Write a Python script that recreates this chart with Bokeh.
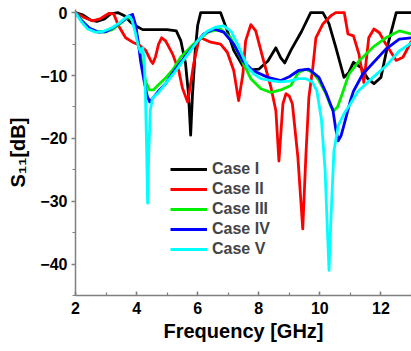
from bokeh.plotting import figure
from bokeh.models import SingleIntervalTicker, Range1d, Legend, LegendItem
from bokeh.embed import file_html
from bokeh.resources import INLINE

# ---- data (frequency in GHz, S11 in dB) ----
case1_x = [2.0, 2.25, 2.5, 2.7, 2.95, 3.15, 3.4, 3.6, 3.8, 3.97, 4.2, 4.6, 5.0, 5.3, 5.45, 5.6, 5.7, 5.77,
           5.83, 5.92, 6.0, 6.1, 6.4, 6.75, 6.97, 7.18, 7.48, 7.74, 8.0, 8.3, 8.56, 8.72, 8.85, 9.05, 9.4,
           9.7, 10.1, 10.3, 10.52, 10.79, 10.95, 11.1, 11.34, 11.57, 11.77, 12.0, 12.23, 12.5, 13.0]
case1_y = [0, -0.4, -1.2, -1.4, -1.0, -0.2, 0, -0.5, -1.5, -2.1, -2.7, -2.7, -2.7, -2.9, -4.5, -8, -13, -19.5,
           -13, -6, -2, 0, 0, 0, -2.9, -6, -8.5, -9.1, -9, -7.7, -5.6, -7.2, -8.0, -6, -3,
           0, 0, -1.8, -5.5, -10.3, -9.5, -7.9, -8.7, -10.5, -11.3, -10.3, -5, 0, 0]

case2_x = [2.0, 2.3, 2.55, 2.8, 3.1, 3.25, 3.4, 3.64, 3.87, 4.07, 4.3, 4.46, 4.53, 4.62, 4.72, 4.82, 4.95,
           5.18, 5.38, 5.5, 5.67, 5.78, 5.87, 6.03, 6.1, 6.43, 6.75, 6.97, 7.18, 7.34, 7.48, 7.57, 7.74,
           7.9, 8.16, 8.4, 8.56, 8.66, 8.79, 8.89, 9.0, 9.1, 9.28, 9.44, 9.54, 9.64, 9.77, 9.87, 10.1,
           10.36, 10.52, 10.8, 10.92, 11.1, 11.28, 11.44, 11.6, 11.77, 11.95, 12.16, 12.5, 12.72, 13.0]
case2_y = [0, -0.8, -1.3, -1.0, -0.1, -0.2, -2, -4, -4.7, -5.1, -6, -7.6, -8.1, -7, -5, -4, -4.5,
           -6.6, -9.2, -12, -14.2, -11, -8.1, -4.5, -4, -4.7, -5, -6.3, -9.2, -14, -9.8, -4.5, -1.9,
           -2.9, -7.7, -11.9, -15.6, -23.6, -14.5, -12.9, -13.3, -14.5, -23, -34.4, -23, -13.5, -8.7, -4, -1.8,
           -0.5, 0, 0, -3.4, -3.7, -6.6, -11.1, -4, -2.6, -3.2, -5, -7.6, -7.1, -4.5]

case3_x = [2.0, 2.2, 2.45, 2.7, 2.95, 3.2, 3.45, 3.65, 3.78, 3.9, 4.0, 4.1, 4.2, 4.3, 4.42, 4.55, 4.75,
           4.95, 5.2, 5.44, 5.87, 6.33, 6.75, 7.08, 7.4, 7.74, 8.07, 8.4, 8.72, 9.05, 9.3, 9.54, 9.77,
           9.97, 10.2, 10.35, 10.46, 10.58, 10.69, 10.95, 11.28, 11.74, 12.16, 12.6, 13.0]
case3_y = [0, -1.2, -2.4, -3.0, -3.1, -2.7, -1.8, -1.0, -0.7, -1.5, -3.5, -6, -8.7, -11, -12.3, -12.3, -11.3,
           -10.4, -9, -7.1, -5, -3.1, -2.6, -4, -7.1, -10.5, -12.1, -12.7, -12.3, -11.6, -9.5, -9, -9.5,
           -10.8, -12.9, -14.8, -15.6, -15.0, -13.5, -9.8, -7.7, -5.5, -4, -2.9, -3.4]

case4_x = [2.0, 2.2, 2.45, 2.75, 3.0, 3.3, 3.55, 3.75, 3.87, 3.97, 4.05, 4.13, 4.25, 4.35, 4.43, 4.53, 4.75,
           4.95, 5.2, 5.44, 5.87, 6.2, 6.52, 6.85, 7.18, 7.48, 7.8, 8.3, 8.72, 9.0, 9.3, 9.64, 9.97,
           10.2, 10.43, 10.52, 10.6, 10.7, 10.8, 11.0, 11.1, 11.4, 11.74, 12.16, 12.6, 13.0]
case4_y = [0, -1.3, -2.5, -3.1, -3.0, -2.2, -1.3, -0.5, -0.3, -2, -4.5, -7.7, -11, -13.3, -14.2, -13.6, -12.3,
           -11.3, -9.5, -7.9, -5.3, -3.4, -2.6, -3.1, -5, -7.7, -9.2, -10.3, -10.8, -10.2, -9.2, -9, -10.3,
           -12.7, -15.6, -18.5, -20.4, -19.5, -17.7, -14, -12.5, -9.8, -8, -5.8, -4.2, -4]

case5_x = [2.0, 2.2, 2.4, 2.65, 2.9, 3.2, 3.45, 3.65, 3.75, 3.85, 3.95, 4.05, 4.13, 4.2, 4.25, 4.29, 4.33,
           4.36, 4.4, 4.45, 4.52, 4.7, 4.95, 5.2, 5.44, 5.7, 6.0, 6.3, 6.6, 6.85, 7.1, 7.35, 7.64, 7.85,
           8.07, 8.4, 8.7, 9.0, 9.3, 9.54, 9.75, 9.9, 10.05, 10.17, 10.25, 10.3, 10.36, 10.46, 10.6, 10.8,
           11.0, 11.25, 11.74, 12.16, 12.6, 13.0]
case5_y = [0, -1.5, -2.6, -3.1, -3.0, -2.4, -1.6, -0.8, -0.5, -1.2, -3, -5.2, -6.3, -5.6, -7.5, -13, -22,
           -30.3, -22, -15.5, -13.6, -12.8, -11.3, -9.8, -8.2, -6.5, -4.5, -3, -2.3, -2.1, -3, -5.5, -8.7, -9.8,
           -10.5, -10.8, -11.0, -10.9, -10.5, -10.5, -11, -12.4, -17, -25, -35, -41, -33, -22, -18, -16,
           -14.5, -12.5, -10.3, -8.5, -6.1, -4.8]

names = ["Case I", "Case II", "Case III", "Case IV", "Case V"]
colors = ["#000000", "#ff0000", "#00ee00", "#0000ff", "#00ffff"]
x_ticks_interval = 2
y_ticks_interval = 10
x_title = "Frequency [GHz]"
y_title = "S₁₁[dB]"

FONT = "Arial"

p = figure(width=411, height=351, output_backend="svg", toolbar_location=None,
           x_range=Range1d(2, 13), y_range=Range1d(-45, 0.5),
           min_border_left=75, min_border_right=0, min_border_top=9, min_border_bottom=56)
p.outline_line_color = None
p.xgrid.visible = False
p.ygrid.visible = False
p.background_fill_color = "white"

series = [(case1_x, case1_y), (case2_x, case2_y), (case3_x, case3_y), (case4_x, case4_y), (case5_x, case5_y)]
renderers = []
for (xs, ys), c in zip(series, colors):
    r = p.line(xs, ys, line_color=c, line_width=2.8, line_join="round")
    renderers.append(r)

items = [LegendItem(label=n, renderers=[r]) for n, r in zip(names, renderers)]
legend = Legend(items=items, location=(95, 36), orientation="vertical",
                border_line_alpha=0, background_fill_alpha=0, padding=0, margin=0, spacing=0,
                label_height=20, glyph_height=20, glyph_width=37, label_standoff=5,
                label_text_font=FONT, label_text_font_style="bold", label_text_font_size="16px")
p.add_layout(legend, "center")

p.xaxis.ticker = SingleIntervalTicker(interval=x_ticks_interval, num_minor_ticks=2)
p.yaxis.ticker = SingleIntervalTicker(interval=y_ticks_interval, num_minor_ticks=2)

for ax in (p.xaxis, p.yaxis):
    ax.axis_line_color = "#808080"
    ax.axis_line_width = 1.5
    ax.major_tick_line_color = "#808080"
    ax.minor_tick_line_color = "#808080"
    ax.major_tick_line_width = 1.5
    ax.minor_tick_line_width = 1.2
    ax.major_label_text_font = FONT
    ax.major_label_text_font_style = "bold"
    ax.major_label_text_font_size = "16px"
    ax.major_label_text_color = "black"
    ax.axis_label_text_font = FONT
    ax.axis_label_text_font_style = "bold"
    ax.axis_label_text_font_size = "20px"
    ax.axis_label_text_color = "black"

p.xaxis.major_tick_in = 4
p.xaxis.major_tick_out = 0
p.xaxis.minor_tick_in = 3
p.xaxis.minor_tick_out = 0
p.xaxis.major_label_standoff = 6
p.xaxis.axis_label = x_title
p.xaxis.axis_label_standoff = 3

p.yaxis.major_tick_in = 0
p.yaxis.major_tick_out = 4
p.yaxis.minor_tick_in = 0
p.yaxis.minor_tick_out = 3
p.yaxis.major_label_standoff = 4
p.yaxis.axis_label = y_title
p.yaxis.axis_label_standoff = 8

open("out.html", "w").write(file_html(p, INLINE))
